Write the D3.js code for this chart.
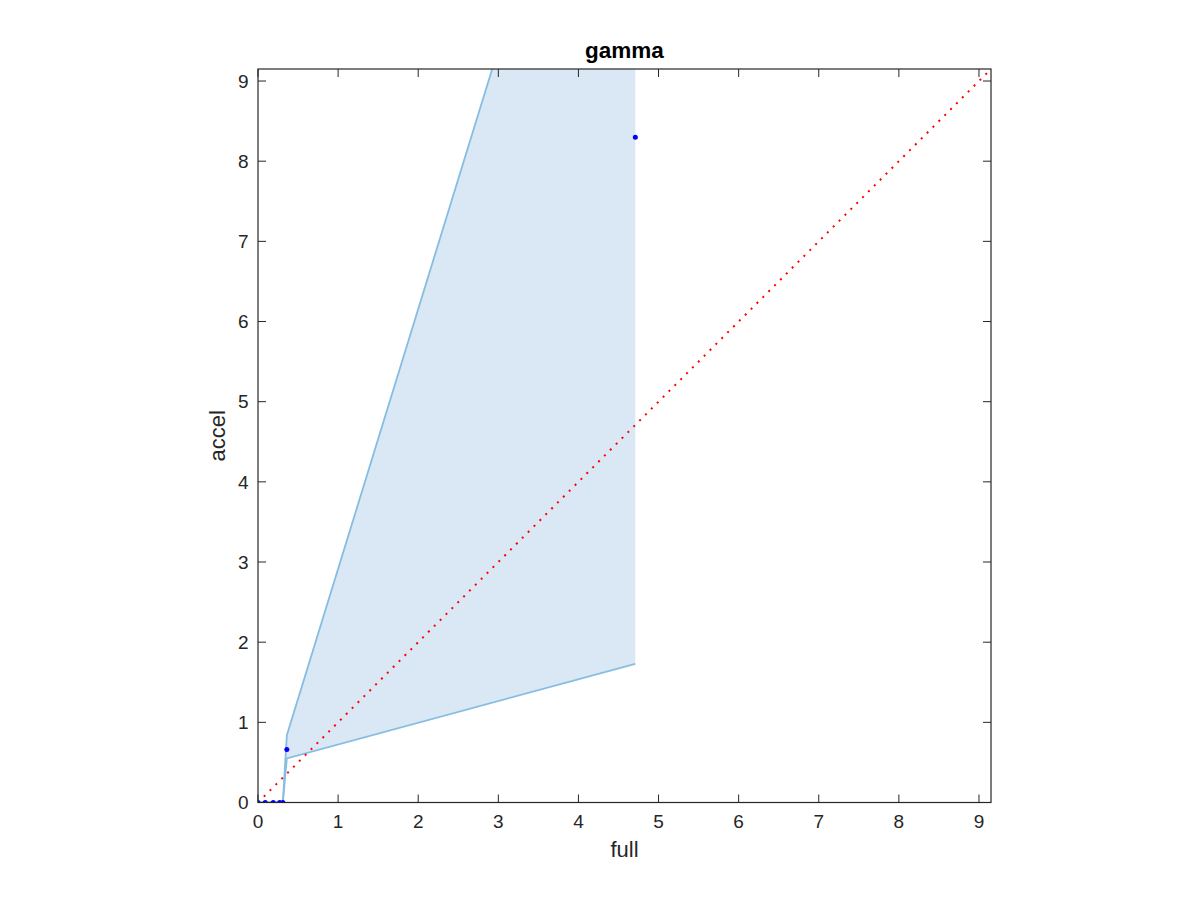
<!DOCTYPE html>
<html><head><meta charset="utf-8">
<script src="https://cdn.jsdelivr.net/npm/d3@7"></script>
<style>body{margin:0;background:#fff}svg{display:block}text{font-family:"Liberation Sans",Arial,Helvetica,sans-serif}</style>
</head><body>
<svg id="c" width="1200" height="900"></svg>
<script>
const bandX = [0, 0.09, 0.19, 0.27, 0.31, 0.36, 4.71];
const bandLower = [0, 0, 0, 0, 0, 0.55, 1.73];
const bandUpper = [0, 0, 0, 0, 0, 0.84, 14.94];
const pointFull = [0, 0.09, 0.19, 0.27, 0.31, 0.36, 4.71];
const pointAccel = [0, 0, 0, 0, 0, 0.66, 8.30];
const diag = [0, 9.15];
const xTicks = [0,1,2,3,4,5,6,7,8,9];
const yTicks = [0,1,2,3,4,5,6,7,8,9];
const domainMax = 9.15;

const svg = d3.select("#c");
const L = 258, R = 991, T = 69, B = 802.5;
const x = d3.scaleLinear().domain([0, domainMax]).range([L, R]);
const y = d3.scaleLinear().domain([0, domainMax]).range([B, T]);

svg.append("defs").append("clipPath").attr("id","clip")
  .append("rect").attr("x",L).attr("y",T).attr("width",R-L).attr("height",B-T);
const g = svg.append("g").attr("clip-path","url(#clip)");

const band = bandX.map((d,i)=>({x:d,lo:bandLower[i],hi:bandUpper[i]}));
g.append("path").datum(band)
  .attr("d", d3.area().x(d=>x(d.x)).y0(d=>y(d.lo)).y1(d=>y(d.hi)))
  .attr("fill","#d9e8f4").attr("stroke","none");
g.append("path").datum(band)
  .attr("d", d3.line().x(d=>x(d.x)).y(d=>y(d.hi)))
  .attr("fill","none").attr("stroke","#86bde1").attr("stroke-width",1.8);
g.append("path").datum(band)
  .attr("d", d3.line().x(d=>x(d.x)).y(d=>y(d.lo)))
  .attr("fill","none").attr("stroke","#86bde1").attr("stroke-width",1.8);

g.append("path").datum(diag)
  .attr("d", d3.line().x(d=>x(d)).y(d=>y(d)))
  .attr("fill","none").attr("stroke","#ff0000").attr("stroke-width",2)
  .attr("stroke-dasharray","2,6.3");

g.selectAll("circle.p").data(pointFull.map((d,i)=>[d,pointAccel[i]])).enter()
  .append("circle").attr("cx",d=>x(d[0])).attr("cy",d=>y(d[1])).attr("r",2.5)
  .attr("fill","#0000ff");

// axes box
const axc = "#262626";
const ax = svg.append("g");
ax.append("rect").attr("x",L).attr("y",T).attr("width",R-L).attr("height",B-T)
  .attr("fill","none").attr("stroke",axc).attr("stroke-width",1.2);
const tl = 8;
xTicks.forEach(t=>{
  ax.append("line").attr("x1",x(t)).attr("x2",x(t)).attr("y1",B).attr("y2",B-tl).attr("stroke",axc);
  ax.append("line").attr("x1",x(t)).attr("x2",x(t)).attr("y1",T).attr("y2",T+tl).attr("stroke",axc);
  ax.append("text").attr("x",x(t)).attr("y",B+25.5).attr("text-anchor","middle")
    .attr("font-size",19).attr("fill",axc).text(t);
});
yTicks.forEach(t=>{
  ax.append("line").attr("y1",y(t)).attr("y2",y(t)).attr("x1",L).attr("x2",L+tl).attr("stroke",axc);
  ax.append("line").attr("y1",y(t)).attr("y2",y(t)).attr("x1",R).attr("x2",R-tl).attr("stroke",axc);
  ax.append("text").attr("x",L-9.5).attr("y",y(t)+6.8).attr("text-anchor","end")
    .attr("font-size",19).attr("fill",axc).text(t);
});
svg.append("text").attr("x",(L+R)/2).attr("y",857).attr("text-anchor","middle")
  .attr("font-size",22).attr("fill",axc).text("full");
svg.append("text").attr("transform",`translate(225,${(T+B)/2}) rotate(-90)`)
  .attr("text-anchor","middle").attr("font-size",22).attr("fill",axc).text("accel");
svg.append("text").attr("x",(L+R)/2).attr("y",58).attr("text-anchor","middle")
  .attr("font-size",22.5).attr("font-weight","bold").attr("fill","#000").text("gamma");
</script>
</body></html>
